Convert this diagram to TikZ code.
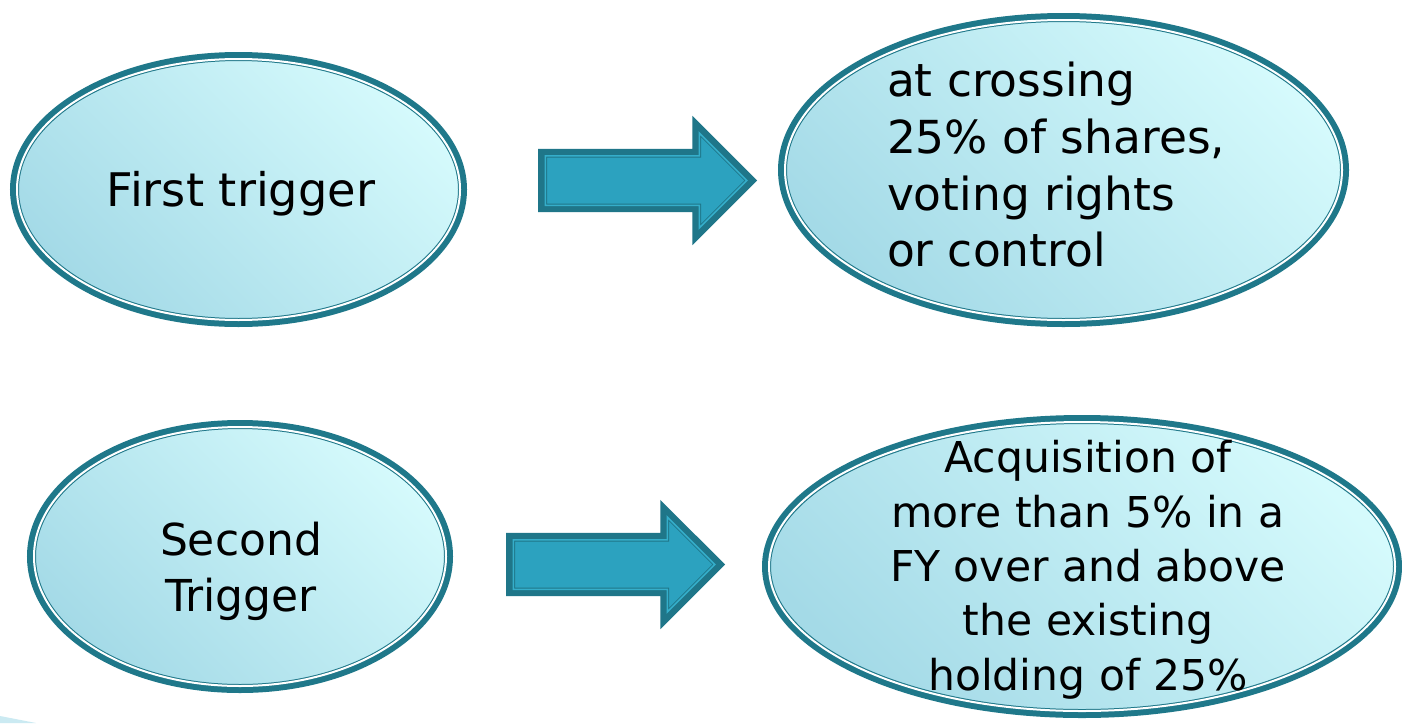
\documentclass[tikz,border=0pt]{standalone}
\usepackage{fontspec}
\setmainfont{DejaVu Sans}
\usetikzlibrary{shapes.geometric,shapes.arrows}
\definecolor{ringdark}{HTML}{1F788A}
\definecolor{bublight}{HTML}{D5FAFC}
\definecolor{bubdark}{HTML}{A4DAE7}
\definecolor{arrfill}{HTML}{2CA2BF}
\definecolor{arrdark}{HTML}{1F7689}
\definecolor{arrlight}{HTML}{35AECA}
\definecolor{decor}{HTML}{CBEAF2}
\tikzset{
  bubble/.style={ellipse, inner sep=0pt, outer sep=0pt, draw=ringdark, line width=9pt,
    top color=bublight, bottom color=bubdark, shading angle=-45},
  bubblering/.style={white, line width=2pt},
  arrowouter/.style={single arrow, single arrow tip angle=90, inner sep=0pt, outer sep=0pt,
    fill=arrdark, text height=31.5pt, text depth=31.5pt, minimum height=219pt,
    single arrow head extend=33pt},
  arrowinner/.style={single arrow, single arrow tip angle=90, inner sep=0pt, outer sep=0pt,
    fill=arrfill, draw=arrdark, line width=1pt, double=arrlight, double distance=1.5pt,
    text height=24.25pt, text depth=24.25pt, minimum height=201.5pt,
    single arrow head extend=22.75pt},
  bubtext/.style={inner sep=0pt, outer sep=0pt, text=black}
}
\begin{document}
\begin{tikzpicture}[x=1pt, y=-1pt]
\useasboundingbox (0,0) rectangle (1402,723);
\fill[white] (0,0) rectangle (1402,723);
\fill[decor] (0,716) -- (36,723) -- (0,723) -- cycle;

% bubbles
\node[bubble, minimum width=448pt, minimum height=266pt] (e1) at (238.5,189.5) {};
\draw[bubblering] (e1.center) ellipse [x radius=221.5pt, y radius=130.5pt];
\node[bubble, minimum width=562pt, minimum height=305pt] (e2) at (1063.5,170) {};
\draw[bubblering] (e2.center) ellipse [x radius=278.5pt, y radius=150pt];
\node[bubble, minimum width=417pt, minimum height=264pt] (e3) at (240,556.5) {};
\draw[bubblering] (e3.center) ellipse [x radius=206pt, y radius=129.5pt];
\node[bubble, minimum width=631pt, minimum height=294pt] (e4) at (1082,566.5) {};
\draw[bubblering] (e4.center) ellipse [x radius=313pt, y radius=144.5pt];

% block arrows
\node[arrowouter, anchor=tail] (a1) at (538,180.5) {};
\node[arrowinner, anchor=tail] (a1i) at (545.25,180.5) {};
\node[arrowouter, anchor=tail] (a2) at (506,564.5) {};
\node[arrowinner, anchor=tail] (a2i) at (513.25,564.5) {};

% texts
\node[bubtext, font=\fontsize{46.3}{56}\selectfont, anchor=base] (t1) at (241,206) {First trigger};
\node[bubtext, font=\fontsize{45.5}{56.7}\selectfont, align=left, anchor=west] (t2) at (887,170.35)
  {\strut at crossing\\\strut 25\% of shares,\\\strut voting rights\\\strut or control};
\node[bubtext, font=\fontsize{44}{56}\selectfont, align=center] (t3) at (241,571.8)
  {\strut Second\\\strut Trigger};
\node[bubtext, font=\fontsize{42.5}{54.3}\selectfont, align=center] (t4) at (1088,570.65)
  {\strut Acquisition of\\\strut more than 5\% in a\\\strut FY over and above\\\strut the existing\\\strut holding of 25\%};
\end{tikzpicture}
\end{document}
